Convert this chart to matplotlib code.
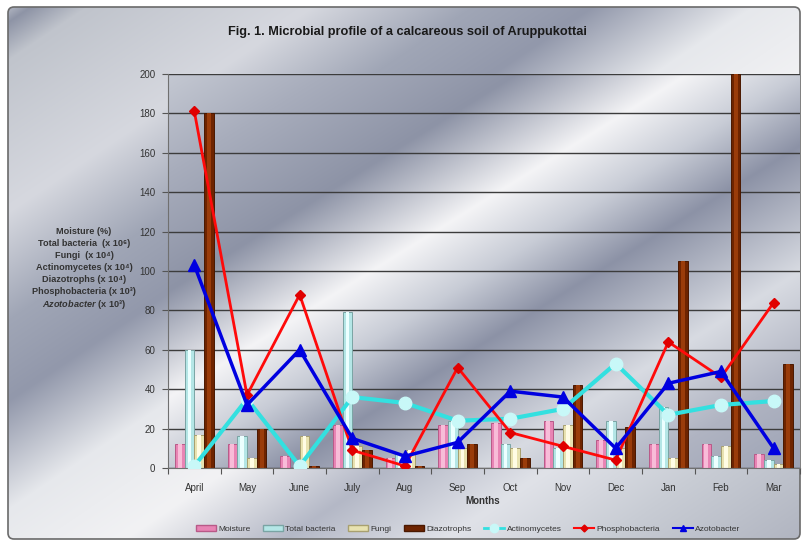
import numpy as np
import matplotlib
matplotlib.use('Agg')
import matplotlib.pyplot as plt
from matplotlib.patches import FancyBboxPatch, Patch
from matplotlib.lines import Line2D

plt.rcParams['font.family'] = ['Liberation Sans', 'DejaVu Sans']
plt.rcParams['mathtext.fontset'] = 'custom'
plt.rcParams['mathtext.rm'] = 'Liberation Sans:bold'
plt.rcParams['mathtext.it'] = 'Liberation Sans:italic:bold'
plt.rcParams['mathtext.bf'] = 'Liberation Sans:bold'

# --- data ---
months = ['April', 'May', 'June', 'July', 'Aug', 'Sep', 'Oct', 'Nov', 'Dec', 'Jan', 'Feb', 'Mar']
moisture = [12, 12, 6, 22, 5, 22, 23, 24, 14, 12, 12, 7]
total_bacteria = [60, 16, 0, 79, 7, 24, 12, 10, 24, 31, 6, 4]
fungi = [17, 5, 16, 11, 9, 10, 10, 22, 10, 5, 11, 2]
diazotrophs = [180, 20, 1, 9, 1, 12, 5, 42, 21, 105, 200, 53]
actinomycetes = [1, 35, 1, 36, 33, 24, 25, 30, 53, 27, 32, 34]
phosphobacteria = [181, 37, 88, 9, 1, 51, 18, 11, 4, 64, 46, 84]
azotobacter = [103, 32, 60, 15, 6, 13, 39, 36, 10, 43, 49, 10]

W, H = 802, 541


def hex2rgb(h):
    h = h.lstrip('#')
    return [int(h[i:i + 2], 16) / 255 for i in (0, 2, 4)]


def chrome(t, stops):
    pos = [s[0] for s in stops]
    cols = np.array([hex2rgb(s[1]) for s in stops])
    return np.stack([np.interp(t, pos, cols[:, k]) for k in range(3)], axis=-1)


chart_stops = [(0.0, '#d0d3da'), (0.05, '#8e94a6'), (0.12, '#c0c4cc'), (0.4, '#d6d8df'),
               (0.6, '#a0a6b6'), (0.75, '#9298ab'), (0.95, '#e6e8ec'), (1.15, '#f2f2f4'),
               (1.35, '#b4b8c6'), (1.55, '#e0e2e8'), (1.75, '#c8ccd4'), (2.0, '#b0b4c0')]
plot_stops = [(0.0, '#c4c8d2'), (0.25, '#a8adbc'), (0.55, '#8d93a6'), (0.82, '#f4f4f6'),
              (1.0, '#c8ccd6'), (1.18, '#8c92a6'), (1.5, '#d8dbe2'), (1.75, '#b0b4c2'),
              (2.0, '#9ca2b4')]

fig = plt.figure(figsize=(W / 100, H / 100), dpi=100)
fig.patch.set_facecolor('white')

# chart area background
bg = fig.add_axes([0, 0, 1, 1], zorder=-10)
bg.set_xlim(0, W)
bg.set_ylim(H, 0)
bg.axis('off')
yy, xx = np.mgrid[0:H, 0:W]
img = chrome(xx / W + yy / H, chart_stops)
im = bg.imshow(img, extent=(0, W, H, 0), aspect='auto', interpolation='bilinear')
border = FancyBboxPatch((8, 7), 792, 532, boxstyle='round,pad=0,rounding_size=6',
                        fill=False, edgecolor='#6a6a6a', linewidth=1.2)
bg.add_patch(border)
im.set_clip_path(border)

# plot area
ax = fig.add_axes([168 / W, 1 - 468 / H, 632 / W, 394 / H])
pw, ph = 632, 394
py, px = np.mgrid[0:ph, 0:pw]
pimg = chrome(px / pw + py / ph, plot_stops)
ax.imshow(pimg, extent=(-0.5, 11.5, 0, 200), aspect='auto', zorder=0, interpolation='bilinear')

x = np.arange(len(months))
w = 0.185
bar_series = [
    (moisture, 'Moisture', '#e884b4', '#f8bcd8', '#b85a88'),
    (total_bacteria, 'Total bacteria', '#b4e6e6', '#ecffff', '#7aa4a4'),
    (fungi, 'Fungi', '#e8e2b0', '#fffce4', '#a8a070'),
    (diazotrophs, 'Diazotrophs', '#6e2400', '#9a3c0a', '#4a1800'),
]
handles = []
for i, (vals, name, fc, hc, ec) in enumerate(bar_series):
    ax.bar(x + (i - 1.5) * w, vals, width=w, color=fc, edgecolor=ec, linewidth=0.7, zorder=2)
    ax.bar(x + (i - 1.5) * w, vals, width=w * 0.4, color=hc, linewidth=0, zorder=2.1)
    handles.append(Patch(facecolor=fc, edgecolor=ec, label=name))

ax.plot(x, actinomycetes, color='#33e0e0', lw=3, marker='o', ms=9,
        mfc='#c8f8f8', mec='#c8f8f8', zorder=3)
ax.plot(x, phosphobacteria, color='#ff0a0a', lw=2, marker='D', ms=5.5,
        mfc='#e00000', mec='#e00000', zorder=4)
ax.plot(x, azotobacter, color='#0000e0', lw=2.5, marker='^', ms=8,
        mfc='#0000e0', mec='#0000e0', zorder=5)
handles += [
    Line2D([], [], color='#33e0e0', lw=2, marker='o', ms=6, mfc='#c8f8f8', mec='#c8f8f8', label='Actinomycetes'),
    Line2D([], [], color='#ff0a0a', lw=1.5, marker='D', ms=3.5, mfc='#e00000', mec='#e00000', label='Phosphobacteria'),
    Line2D([], [], color='#0000e0', lw=1.5, marker='^', ms=5, mfc='#0000e0', mec='#0000e0', label='Azotobacter'),
]

ax.set_xlim(-0.5, 11.5)
ax.set_ylim(0, 200)
ax.set_yticks(np.arange(0, 201, 20))
ax.yaxis.grid(True, color='#3c3c3c', lw=1)
ax.set_axisbelow(True)
ax.set_xticks(np.arange(-0.5, 12, 1))
ax.set_xticklabels([])
ax.set_xticks(x, minor=True)
ax.set_xticklabels(months, minor=True)
ax.tick_params(axis='x', which='minor', length=0, pad=11, labelsize=7, labelcolor='#333333')
ax.tick_params(axis='x', which='major', length=4, color='#555555')
ax.tick_params(axis='y', length=4, color='#555555', labelsize=7, labelcolor='#333333', pad=5)
for s in ['top', 'right']:
    ax.spines[s].set_visible(False)
ax.spines['left'].set_color('#707070')
ax.spines['bottom'].set_color('#707070')

fig.text(407 / W, 1 - 32 / H, 'Fig. 1. Microbial profile of a calcareous soil of Aruppukottai',
         ha='center', va='center', fontsize=9.2, fontweight='bold', color='#1a1a1a')
fig.text(483 / W, 1 - 501 / H, 'Months', ha='center', va='center', fontsize=7,
         fontweight='bold', color='#333333')

ylabel_lines = [
    'Moisture (%)',
    'Total bacteria  (x 10\u2076)',
    'Fungi  (x 10\u2074)',
    'Actinomycetes (x 10\u2074)',
    'Diazotrophs (x 10\u2074)',
    'Phosphobacteria (x 10\u00b3)',
    r'$\mathit{Azotobacter}$ (x 10' + '\u00b3)',
]
for k, line in enumerate(ylabel_lines):
    fig.text(84 / W, 1 - (231 + k * 12.2) / H, line, ha='center', va='center',
             fontsize=6.6, fontweight='bold', color='#333333')

fig.legend(handles=handles, loc='center', bbox_to_anchor=(468 / W, 1 - 529 / H), ncol=7,
           frameon=False, fontsize=6, handlelength=2.4, handleheight=0.6,
           columnspacing=1.5, handletextpad=0.3, labelcolor='#333333')

fig.savefig('out.png', dpi=100)
